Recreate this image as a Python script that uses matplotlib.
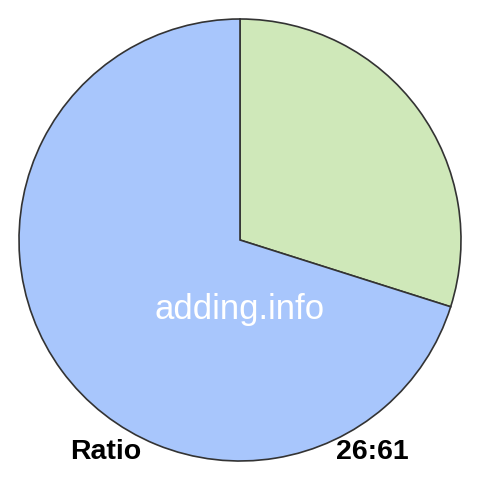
import matplotlib
matplotlib.use("Agg")
import matplotlib.pyplot as plt

labels = ["26", "61"]
values = [26, 61]
colors = ["#cfe8b9", "#a8c6fc"]
site = "adding.info"
ratio_label = "Ratio"
ratio_text = "26:61"

plt.rcParams['font.family'] = ['Liberation Sans', 'DejaVu Sans']

fig = plt.figure(figsize=(4.8, 4.8), dpi=100)
ax = fig.add_axes([0, 0, 1, 1])
ax.pie(values, colors=colors, startangle=90, counterclock=False, radius=221,
       center=(0, 0), wedgeprops=dict(edgecolor="#333333", linewidth=1.2))
ax.set_xlim(-240, 240)
ax.set_ylim(-240, 240)
ax.set_aspect("equal")
ax.axis("off")

ax.text(0, -70, site, color="white", fontsize=25, ha="center", va="center")
ax.text(-134, -212, ratio_label, fontsize=20.5, fontweight="bold", ha="center", va="center")
ax.text(132, -212, ratio_text, fontsize=20.5, fontweight="bold", ha="center", va="center")

fig.savefig("out.png", dpi=100, facecolor="white")
